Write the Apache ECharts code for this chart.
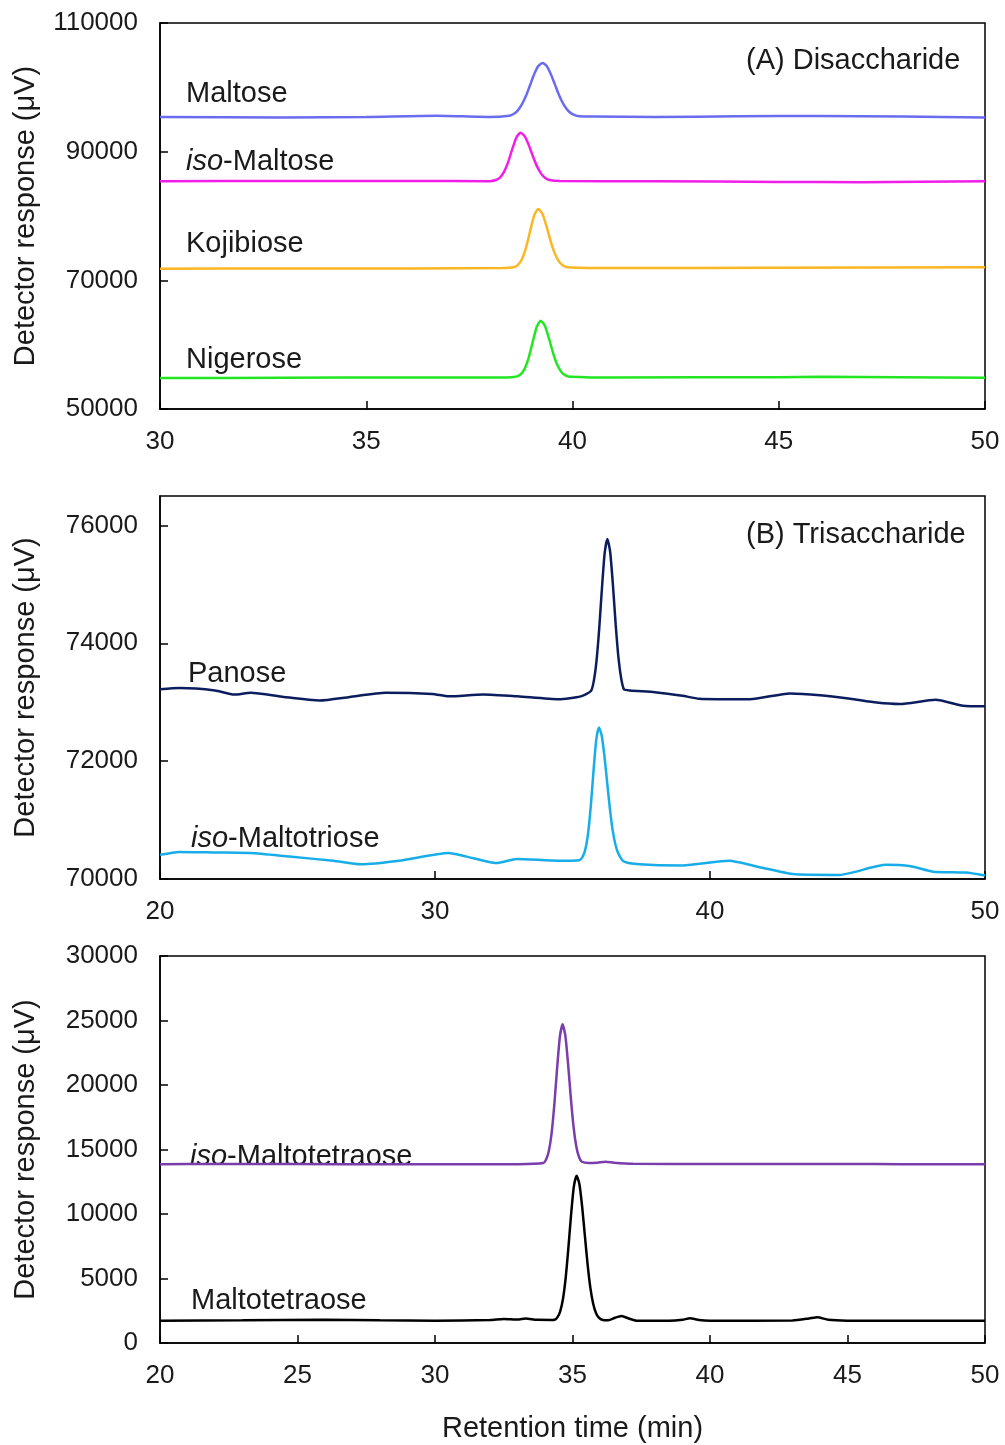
<!DOCTYPE html>
<html lang="en">

<head>
  <meta charset="UTF-8">
  <title>Chromatograms</title>
  <script src="https://cdn.jsdelivr.net/npm/echarts@6/dist/echarts.min.js"></script>
  <style>
    body { margin: 0; background: #fff; }
    #echarts { width: 1005px; height: 1445px; }
  </style>
</head>

<body>
  <div id="echarts"></div>
</body>

</html>
<script>
  // (A) disaccharides: [retention time (min), response (uV)]
  let maltose = [[30, 95400], [33, 95300], [35, 95400], [36.7, 95600], [38, 95400], [38.47, 95600],
    [38.57, 95860], [38.67, 96390], [38.77, 97300], [38.87, 98640], [38.97, 100320], [39.07, 102020],
    [39.17, 103310], [39.27, 103800], [39.37, 103340], [39.47, 102120], [39.57, 100500], [39.67, 98850],
    [39.77, 97490], [39.87, 96540], [39.97, 95950], [40.07, 95650], [40.17, 95500], [40.5, 95450],
    [42, 95400], [44, 95500], [46, 95550], [48, 95450], [50, 95300]];
  let isoMaltose = [[30, 85400], [33, 85450], [36, 85450], [38, 85400], [38.14, 85590], [38.24, 85970],
    [38.34, 86850], [38.44, 88380], [38.54, 90400], [38.64, 92210], [38.74, 92950], [38.84, 92410],
    [38.94, 91020], [39.04, 89280], [39.14, 87710], [39.24, 86590], [39.34, 85920], [39.44, 85600],
    [39.7, 85450], [42, 85400], [45, 85300], [47, 85250], [50, 85400]];
  let kojibiose = [[30, 71800], [33, 71850], [36, 71850], [38.3, 71900], [38.57, 72020], [38.67, 72350],
    [38.77, 73240], [38.87, 75020], [38.97, 77590], [39.07, 80060], [39.17, 81100], [39.27, 80340],
    [39.37, 78400], [39.47, 76110], [39.57, 74190], [39.67, 72950], [39.77, 72300], [39.87, 72050],
    [41, 71900], [45, 71950], [50, 72050]];
  let nigerose = [[30, 54800], [33, 54850], [36, 54900], [38.4, 54900], [38.63, 55030], [38.73, 55320],
    [38.83, 56120], [38.93, 57790], [39.03, 60270], [39.13, 62700], [39.23, 63730], [39.33, 62940],
    [39.43, 60960], [39.53, 58690], [39.63, 56870], [39.73, 55760], [39.83, 55220], [39.93, 55030],
    [41, 54900], [45, 54950], [46, 55000], [50, 54850]];

  // (B) trisaccharides
  let panose = [[20, 73220], [20.7, 73240], [22, 73200], [22.7, 73130], [23.3, 73160], [24.5, 73090],
    [25.8, 73030], [26.9, 73090], [28.2, 73160], [29.9, 73140], [30.5, 73100], [31.75, 73130],
    [33, 73100], [34.5, 73050], [35.3, 73100], [35.67, 73190], [35.77, 73350], [35.87, 73690],
    [35.97, 74240], [36.07, 74930], [36.17, 75530], [36.27, 75770], [36.37, 75550], [36.47, 74990],
    [36.57, 74320], [36.67, 73760], [36.77, 73405], [36.87, 73220], [37.1, 73200], [38, 73170],
    [39, 73110], [39.6, 73060], [41.45, 73050], [42.9, 73150], [44, 73120], [45.1, 73060], [46.06, 72995],
    [46.9, 72970], [48.2, 73040], [49.2, 72940], [50, 72930]];
  let isoMaltotriose = [[20, 70410], [20.7, 70460], [22, 70450], [23.3, 70440], [24.7, 70380],
    [26.3, 70310], [27.3, 70250], [28.7, 70310], [30.5, 70440], [31.15, 70380], [32.24, 70270],
    [32.97, 70340], [34.5, 70310], [35.25, 70320], [35.36, 70370], [35.46, 70490], [35.56, 70750],
    [35.66, 71210], [35.76, 71810], [35.86, 72350], [35.96, 72570], [36.06, 72440], [36.16, 72090],
    [36.26, 71640], [36.36, 71190], [36.46, 70830], [36.56, 70585], [36.66, 70440], [36.86, 70300],
    [37.45, 70250], [39, 70230], [40.7, 70310], [41.8, 70200], [43, 70085], [44.7, 70070],
    [46.4, 70240], [47.3, 70215], [48.1, 70125], [49.3, 70110], [50, 70060]];

  // (C) tetrasaccharides
  let isoMaltotetraose = [[20, 13850], [22, 13880], [25, 13870], [28, 13860], [31, 13850], [33, 13860],
    [33.94, 13950], [34.04, 14220], [34.14, 14880], [34.24, 16250], [34.34, 18490], [34.44, 21290],
    [34.54, 23720], [34.64, 24700], [34.74, 23830], [34.84, 21620], [34.94, 18980], [35.04, 16720],
    [35.14, 15220], [35.24, 14400], [35.34, 14050], [35.6, 13950], [35.9, 13980], [36.2, 14050],
    [36.5, 13980], [37.2, 13900], [40, 13880], [43, 13870], [45, 13880], [47, 13860], [50, 13850]];
  let maltotetraose = [[20, 1730], [23, 1760], [26, 1800], [28, 1760], [30, 1730], [32, 1780],
    [32.5, 1870], [33, 1820], [33.3, 1900], [33.7, 1800], [34.25, 1790], [34.35, 1800], [34.45, 1990],
    [34.55, 2440], [34.65, 3370], [34.75, 5010], [34.85, 7350], [34.95, 9990], [35.05, 12140],
    [35.15, 12970], [35.25, 12320], [35.35, 10590], [35.45, 8320], [35.55, 6070], [35.65, 4270],
    [35.75, 3060], [35.85, 2350], [35.95, 1980], [36.1, 1780], [36.3, 1760], [36.55, 1960],
    [36.78, 2090], [37.05, 1900], [37.33, 1730], [38.5, 1730], [39, 1800], [39.27, 1920], [39.6, 1780],
    [40, 1730], [43, 1750], [43.6, 1900], [43.9, 2000], [44.3, 1800], [45, 1730], [47, 1720], [50, 1730]];

  let fontName = '"Liberation Sans", Arial, sans-serif';
  let textColor = '#1a1a1a';

  function xAxisOf(idx, min, max, interval, name) {
    return {
      type: 'value', gridIndex: idx, min: min, max: max, interval: interval,
      name: name || '', nameLocation: 'middle', nameGap: 71,
      nameTextStyle: { fontSize: 29, color: textColor, fontFamily: fontName },
      axisLine: { lineStyle: { color: '#000', width: 1.5 } },
      axisTick: { inside: true, length: 8, lineStyle: { color: '#000', width: 1.5 } },
      axisLabel: { fontSize: 26, color: textColor, fontFamily: fontName, margin: 20 },
      splitLine: { show: false }
    };
  }

  function yAxisOf(idx, min, max, interval) {
    return {
      type: 'value', gridIndex: idx, min: min, max: max, interval: interval,
      name: 'Detector response (μV)', nameLocation: 'middle', nameGap: 120,
      nameTextStyle: { fontSize: 29, color: textColor, fontFamily: fontName },
      axisLine: { show: true, lineStyle: { color: '#000', width: 1.5 } },
      axisTick: { show: true, inside: true, length: 8, lineStyle: { color: '#000', width: 1.5 } },
      axisLabel: {
        fontSize: 26, color: textColor, fontFamily: fontName, margin: 22,
        showMaxLabel: idx === 1 ? false : null,
        formatter: function (v) { return String(v); }
      },
      splitLine: { show: false }
    };
  }

  function line(idx, data, color) {
    return {
      type: 'line', xAxisIndex: idx, yAxisIndex: idx, data: data,
      showSymbol: false, smooth: 0.2, animation: false,
      lineStyle: { color: color, width: 2.5 }
    };
  }

  function label(x, y, text) {
    return {
      type: 'text', left: x, top: y,
      style: {
        text: text, fontSize: 29, fill: textColor, fontFamily: fontName,
        rich: { i: { fontStyle: 'italic', fontSize: 29, fontFamily: fontName, fill: textColor } }
      }
    };
  }

  let myEcharts = echarts.init(document.getElementById('echarts'));

  myEcharts.setOption({
    backgroundColor: '#fff',
    animation: false,
    grid: [
      { left: 160, right: 20, top: 23, height: 386, show: true, borderColor: '#000', borderWidth: 1.5 },
      { left: 160, right: 20, top: 496, height: 383, show: true, borderColor: '#000', borderWidth: 1.5 },
      { left: 160, right: 20, top: 956, height: 387, show: true, borderColor: '#000', borderWidth: 1.5 }
    ],
    xAxis: [
      xAxisOf(0, 30, 50, 5),
      xAxisOf(1, 20, 50, 10),
      xAxisOf(2, 20, 50, 5, 'Retention time (min)')
    ],
    yAxis: [
      yAxisOf(0, 50000, 110000, 20000),
      yAxisOf(1, 70000, 76500, 2000),
      yAxisOf(2, 0, 30000, 5000)
    ],
    series: [
      line(0, maltose, '#6a6cf0'),
      line(0, isoMaltose, '#f01ee8'),
      line(0, kojibiose, '#fbb622'),
      line(0, nigerose, '#22e622'),
      line(1, panose, '#0c1d5e'),
      line(1, isoMaltotriose, '#17ade8'),
      line(2, isoMaltotetraose, '#7a3dac'),
      line(2, maltotetraose, '#000000')
    ],
    graphic: [
      label(186, 79, 'Maltose'),
      label(186, 147, '{i|iso}-Maltose'),
      label(186, 229, 'Kojibiose'),
      label(186, 345, 'Nigerose'),
      label(746, 46, '(A) Disaccharide'),
      label(188, 659, 'Panose'),
      label(191, 824, '{i|iso}-Maltotriose'),
      label(746, 520, '(B) Trisaccharide'),
      label(190, 1142, '{i|iso}-Maltotetraose'),
      label(191, 1286, 'Maltotetraose')
    ]
  });
</script>
